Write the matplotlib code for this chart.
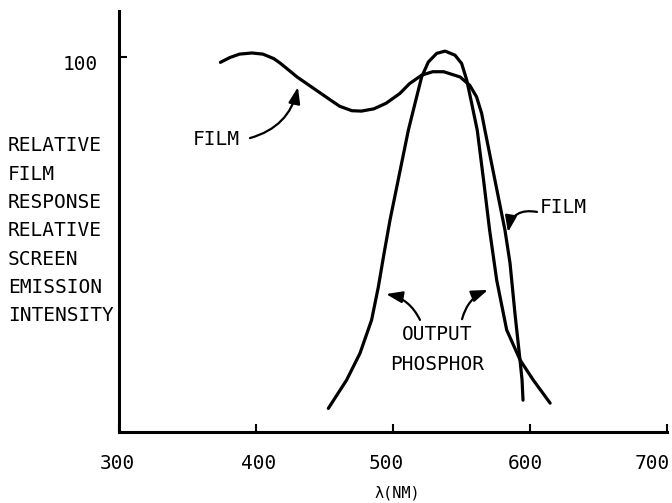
import matplotlib
matplotlib.use("Agg")
import matplotlib.pyplot as plt
from matplotlib.transforms import ScaledTranslation

plt.rcParams['font.family'] = ['DejaVu Sans Mono', 'DejaVu Sans']

# relative film response vs wavelength
film_nm = [374, 381, 388, 397, 405, 413, 418, 430, 449, 461, 470, 477, 486, 495,
           505, 512, 521, 529, 537, 549, 556, 561, 564.7, 567.1, 574.4, 581.7, 585.4,
           589.0, 592.7, 594.2, 594.9]
film_resp = [98.6, 99.9, 100.8, 101.1, 100.8, 99.6, 98.3, 94.7, 89.9, 86.9, 85.7,
             85.6, 86.2, 87.7, 90.3, 92.9, 95.2, 96.1, 96.1, 94.7, 92.5, 89.4, 85.0,
             80.5, 67.2, 53.9, 45.1, 31.7, 19.2, 13.9, 8.5]

# output phosphor emission
phos_nm = [452.8, 466.2, 475.9, 484.4, 489.3, 493.5, 497.8, 511.2, 516.1,
           520.9, 525.8, 531.9, 538.0, 545.3, 550.1, 553.8, 557.4, 561.5, 566.1,
           570.5, 575.7, 583.0, 592.8, 602.3, 614.7]
phos_int = [6.3, 13.9, 21.0, 29.9, 38.7, 47.7, 56.5, 80.5, 87.7, 94.7, 98.7,
            101.0, 101.6, 100.5, 98.3, 93.9, 87.7, 80.5, 67.2, 53.9, 40.5, 27.2,
            19.2, 13.9, 7.7]

x_ticks = [300, 400, 500, 600, 700]
y_ticks = [100]
ylabel_lines = ["RELATIVE", "FILM", "RESPONSE", "RELATIVE", "SCREEN",
                "EMISSION", "INTENSITY"]

fig = plt.figure(figsize=(6.72, 5.03), dpi=100)
ax = fig.add_axes([119 / 672, 71 / 503, 548 / 672, 421 / 503])
ax.set_xlim(300, 700)
ax.set_ylim(0, 112.3)

ax.plot(film_nm, film_resp, color='black', lw=2.3,
        solid_capstyle='round', solid_joinstyle='round')
ax.plot(phos_nm, phos_int, color='black', lw=2.3,
        solid_capstyle='round', solid_joinstyle='round')

for side in ['top', 'right']:
    ax.spines[side].set_visible(False)
for side in ['left', 'bottom']:
    ax.spines[side].set_linewidth(2.2)

ax.set_xticks(x_ticks)
ax.set_yticks(y_ticks)
ax.tick_params(axis='both', direction='in', length=6, width=1.5, labelsize=14)
ax.tick_params(axis='x', pad=16)
ax.tick_params(axis='y', pad=15)

# hand-lettered labels don't sit exactly under their ticks
fig.canvas.draw()
x_shift = [-2, 3, -7, -5, -15]
for lab, dx in zip(ax.get_xticklabels(), x_shift):
    lab.set_transform(lab.get_transform() + ScaledTranslation(dx / 100, 0, fig.dpi_scale_trans))
for lab in ax.get_yticklabels():
    lab.set_transform(lab.get_transform() + ScaledTranslation(0, -5 / 100, fig.dpi_scale_trans))

# axis titles
fig.text(397 / 672, 1 - 493 / 503, 'λ(NM)', ha='center', va='center', fontsize=11)
for i, line in enumerate(ylabel_lines):
    fig.text(8 / 672, 1 - (146 + i * 28.3) / 503, line,
             ha='left', va='center', fontsize=14)

# curve labels with arrows
arrow = dict(arrowstyle='-|>,head_length=0.7,head_width=0.25', color='black',
             lw=1.6, shrinkA=0, shrinkB=0, mutation_scale=14)

ax.text(354, 77.9, 'FILM', ha='left', va='center', fontsize=14)
ax.annotate('', xy=(430.6, 92.0), xytext=(395.6, 78.4),
            arrowprops=dict(arrow, connectionstyle='arc3,rad=0.3'))

ax.text(607.3, 60.0, 'FILM', ha='left', va='center', fontsize=14)
ax.annotate('', xy=(583.9, 53.3), xytext=(605.1, 58.7),
            arrowprops=dict(arrow, connectionstyle='arc3,rad=0.5'))

ax.text(532.1, 25.9, 'OUTPUT', ha='center', va='center', fontsize=14)
ax.text(532.1, 17.9, 'PHOSPHOR', ha='center', va='center', fontsize=14)
ax.annotate('', xy=(494.9, 36.8), xytext=(519.7, 29.9),
            arrowprops=dict(arrow, connectionstyle='arc3,rad=0.25'))
ax.annotate('', xy=(569.3, 37.9), xytext=(550.4, 30.1),
            arrowprops=dict(arrow, connectionstyle='arc3,rad=-0.25'))

fig.savefig('out.png', dpi=100)
